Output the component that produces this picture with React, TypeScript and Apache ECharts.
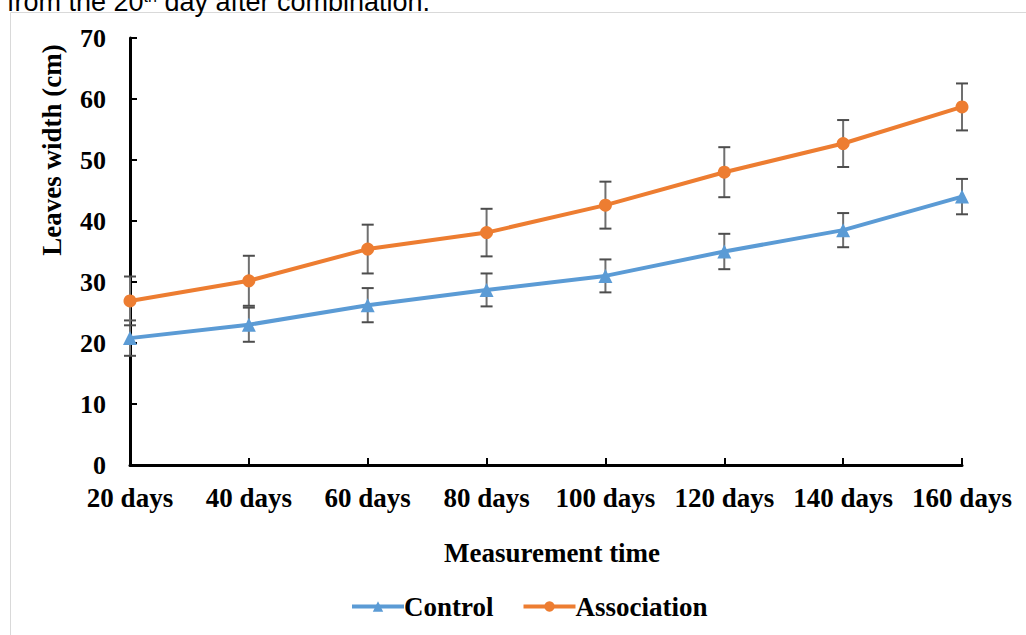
import React, { useEffect, useRef } from "react";
import * as echarts from "echarts";

const categories = ["20 days", "40 days", "60 days", "80 days", "100 days", "120 days", "140 days", "160 days"];
const controlValues = [20.8, 23.0, 26.2, 28.7, 31.0, 35.0, 38.5, 44.0];
const controlErrors = [2.9, 2.8, 2.8, 2.7, 2.7, 2.9, 2.8, 2.9];
const associationValues = [26.9, 30.2, 35.4, 38.1, 42.6, 48.0, 52.7, 58.7];
const associationErrors = [4.0, 4.1, 4.0, 3.9, 3.85, 4.1, 3.85, 3.85];
const seriesNames = ["Control", "Association"];
const yAxisTitle = "Leaves width (cm)";
const xAxisTitle = "Measurement time";

const SERIF = "'Liberation Serif', 'Times New Roman', serif";
const BLUE = "#5B9BD5";
const ORANGE = "#ED7D31";

function errorData(values: number[], errs: number[]) {
  return values.map((v, i) => [i, v - errs[i], v + errs[i]]);
}

function renderError(params: any, api: any) {
  const i = api.value(0);
  const lo = api.coord([i, api.value(1)]);
  const hi = api.coord([i, api.value(2)]);
  const hw = 6;
  const stem = { stroke: "#707070", lineWidth: 2 };
  const cap = { stroke: "#4d4d4d", lineWidth: 2 };
  return {
    type: "group",
    children: [
      { type: "line", shape: { x1: hi[0], y1: hi[1], x2: lo[0], y2: lo[1] }, style: stem },
      { type: "line", shape: { x1: hi[0] - hw, y1: hi[1], x2: hi[0] + hw, y2: hi[1] }, style: cap },
      { type: "line", shape: { x1: lo[0] - hw, y1: lo[1], x2: lo[0] + hw, y2: lo[1] }, style: cap },
    ],
  };
}

export default function App() {
  const ref = useRef<HTMLDivElement>(null);
  useEffect(() => {
    if (!ref.current) return;
    const chart = echarts.init(ref.current, undefined, { renderer: "svg" });
    chart.setOption({
      animation: false,
      backgroundColor: "#ffffff",
      grid: { left: 130, right: 64, top: 38, bottom: 170, containLabel: false },
      legend: {
        data: seriesNames,
        left: 345,
        top: 588,
        itemWidth: 52,
        itemHeight: 13,
        itemGap: 28,
        lineStyle: { width: 4 },
        textStyle: {
          fontFamily: SERIF,
          fontSize: 27,
          fontWeight: "bold",
          color: "#000",
          padding: [0, 0, 0, -5],
        },
      },
      xAxis: {
        type: "category",
        data: categories,
        boundaryGap: false,
        axisLine: { lineStyle: { color: "#000", width: 3 } },
        axisTick: { inside: true, length: 7, interval: 0, lineStyle: { color: "#000", width: 2 } },
        axisLabel: {
          interval: 0,
          hideOverlap: false,
          fontFamily: SERIF,
          fontSize: 27,
          fontWeight: "bold",
          color: "#000",
          margin: 19,
        },
        splitLine: { show: false },
      },
      yAxis: {
        type: "value",
        min: 0,
        max: 70,
        interval: 10,
        axisLine: { show: true, lineStyle: { color: "#000", width: 3 } },
        axisTick: { show: true, inside: true, length: 7, lineStyle: { color: "#000", width: 2 } },
        axisLabel: { fontFamily: SERIF, fontSize: 26, fontWeight: "bold", color: "#000", margin: 24 },
        splitLine: { show: false },
      },
      graphic: [
        {
          type: "rect",
          z: -10,
          shape: { x: 10.5, y: 12.5, width: 1030, height: 640 },
          style: { fill: "none", stroke: "#d9d9d9", lineWidth: 1 },
        },
        {
          type: "text",
          x: 7,
          y: 2,
          style: {
            text: "{a|from the 20}{s|th}{a| day after combination.}",
            verticalAlign: "middle",
            rich: {
              a: { fontFamily: "'Liberation Sans', Arial, sans-serif", fontSize: 27, fill: "#000" },
              s: { fontFamily: "'Liberation Sans', Arial, sans-serif", fontSize: 16, fill: "#000", verticalAlign: "top" },
            },
          },
        },
        {
          type: "text",
          x: 52,
          y: 150,
          rotation: Math.PI / 2,
          style: {
            text: yAxisTitle,
            align: "center",
            verticalAlign: "middle",
            fontFamily: SERIF,
            fontSize: 27,
            fontWeight: "bold",
            fill: "#000",
          },
        },
        {
          type: "text",
          x: 552,
          y: 553,
          style: {
            text: xAxisTitle,
            align: "center",
            verticalAlign: "middle",
            fontFamily: SERIF,
            fontSize: 27,
            fontWeight: "bold",
            fill: "#000",
          },
        },
      ],
      series: [
        {
          name: "ControlErr",
          type: "custom",
          renderItem: renderError,
          data: errorData(controlValues, controlErrors),
          encode: { x: 0, y: [1, 2] },
          z: 1,
          silent: true,
        },
        {
          name: "AssociationErr",
          type: "custom",
          renderItem: renderError,
          data: errorData(associationValues, associationErrors),
          encode: { x: 0, y: [1, 2] },
          z: 1,
          silent: true,
        },
        {
          name: seriesNames[0],
          type: "line",
          data: controlValues,
          symbol: "triangle",
          symbolSize: 14,
          showAllSymbol: true,
          itemStyle: { color: BLUE },
          lineStyle: { color: BLUE, width: 4 },
          z: 3,
        },
        {
          name: seriesNames[1],
          type: "line",
          data: associationValues,
          symbol: "circle",
          symbolSize: 13,
          showAllSymbol: true,
          itemStyle: { color: ORANGE },
          lineStyle: { color: ORANGE, width: 4 },
          z: 3,
        },
      ],
    });
    return () => chart.dispose();
  }, []);
  return (
    <div
      ref={ref}
      style={{ position: "absolute", left: 0, top: 0, width: 1026, height: 635, background: "#fff" }}
    />
  );
}
